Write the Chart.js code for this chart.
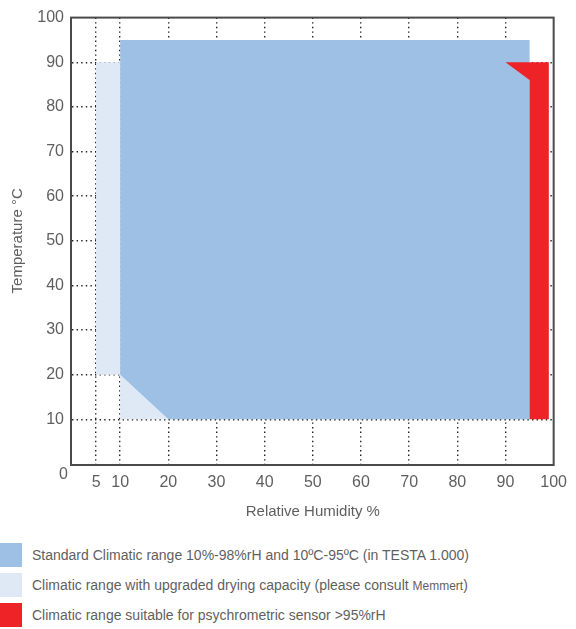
<!DOCTYPE html>
<html>
<head>
<meta charset="utf-8">
<script src="https://cdn.jsdelivr.net/npm/chart.js@4"></script>
<style>
  body { margin: 0; background: #fff; font-family: "Liberation Sans", Arial, sans-serif; }
  #wrap { position: relative; width: 576px; height: 629px; }
  #legend { position: absolute; left: 0; top: 543px; }
  .row { position: relative; height: 30px; }
  .sw { position: absolute; left: 0; top: 0; width: 22px; height: 24px; }
  .txt { position: absolute; left: 32px; top: 0; line-height: 24px; font-size: 14px; color: #5f5f5f; white-space: nowrap; }
  .small { font-size: 12px; }
</style>
</head>
<body>
<div id="wrap">
  <canvas id="myChart" width="576" height="530"></canvas>
  <div id="legend"></div>
</div>
<script>
// polygon corners, humidity (x) and temperature (y)
const standardRH = [10, 10, 95, 95, 20, 10];
const standardTemp = [20, 95, 95, 10, 10, 20];

const dryingRH = [5, 5, 10, 10, 20, 10, 5];
const dryingTemp = [20, 90, 90, 10, 10, 20, 20];

const psychroRH = [90, 99, 99, 95, 95, 90];
const psychroTemp = [90, 90, 10, 10, 86, 90];

const xTicks = [5, 10, 20, 30, 40, 50, 60, 70, 80, 90, 100];
const yTicks = [0, 10, 20, 30, 40, 50, 60, 70, 80, 90, 100];

const legendLabels = [
  "Standard Climatic range 10%-98%rH and 10ºC-95ºC (in TESTA 1.000)",
  "Climatic range with upgraded drying capacity (please consult <span class=\"small\">Memmert</span>)",
  "Climatic range suitable for psychrometric sensor &gt;95%rH",
];
const colors = ["#9dc0e4", "#dfe9f6", "#ed2327"];

function points(xs, ys) {
  return xs.map((x, i) => ({ x: x, y: ys[i] }));
}

function area(data, color, order) {
  return {
    data: data,
    showLine: true,
    fill: "shape",
    backgroundColor: color,
    borderColor: "rgba(0,0,0,0)",
    borderWidth: 0,
    pointRadius: 0,
    order: order,
  };
}

// frame round the plot + the lone "0" under the corner
const framePlugin = {
  id: "frame",
  afterDraw(chart) {
    let a = chart.chartArea;
    let c = chart.ctx;
    c.save();
    c.strokeStyle = "#4a4a4a";
    c.lineWidth = 2;
    c.strokeRect(a.left - 1, a.top, a.right - a.left + 1, a.bottom - a.top + 1);
    c.fillStyle = "#5f5f5f";
    c.font = "16px 'Liberation Sans', Arial, sans-serif";
    c.textAlign = "right";
    c.textBaseline = "middle";
    let y0 = chart.scales.y.getPixelForValue(0);
    c.fillText("0", chart.scales.y.right - 4, y0 + 11);
    c.restore();
  },
};

const gridColor = "#222";
const tickFont = { family: "'Liberation Sans', Arial, sans-serif", size: 16 };
const titleFont = { family: "'Liberation Sans', Arial, sans-serif", size: 15 };

new Chart(document.getElementById("myChart"), {
  type: "scatter",
  data: {
    datasets: [
      area(points(psychroRH, psychroTemp), colors[2], 0),
      area(points(standardRH, standardTemp), colors[0], 1),
      area(points(dryingRH, dryingTemp), colors[1], 2),
    ],
  },
  options: {
    responsive: false,
    animation: false,
    layout: { padding: { top: 17, right: 20, left: 0, bottom: 0 } },
    plugins: {
      legend: { display: false },
      tooltip: { enabled: false },
    },
    scales: {
      x: {
        type: "linear",
        min: 0,
        max: 100,
        z: 1,
        afterBuildTicks: (scale) => {
          scale.ticks = xTicks.map((v) => ({ value: v }));
        },
        afterFit: (scale) => {
          scale.height = 66;
        },
        grid: {
          color: (ctx) => (ctx.tick && ctx.tick.value < 100 ? gridColor : "rgba(0,0,0,0)"),
          lineWidth: 1.4,
          drawTicks: false,
        },
        border: { display: false, dash: [1.4, 3.2] },
        ticks: { color: "#5f5f5f", font: tickFont, padding: 9, maxRotation: 0 },
        title: {
          display: true,
          text: "Relative Humidity %",
          color: "#5f5f5f",
          font: titleFont,
          padding: { top: 0, bottom: 9 },
        },
      },
      y: {
        type: "linear",
        min: 0,
        max: 100,
        z: 1,
        afterBuildTicks: (scale) => {
          scale.ticks = yTicks.map((v) => ({ value: v }));
        },
        afterFit: (scale) => {
          scale.width = 72;
        },
        grid: {
          color: (ctx) => (ctx.tick && ctx.tick.value > 0 && ctx.tick.value < 100 ? gridColor : "rgba(0,0,0,0)"),
          lineWidth: 1.4,
          drawTicks: false,
        },
        border: { display: false, dash: [1.4, 3.2] },
        ticks: {
          color: "#5f5f5f",
          font: tickFont,
          padding: 8,
          callback: (v) => (v === 0 ? "" : v),
        },
        title: {
          display: true,
          text: "Temperature °C",
          color: "#5f5f5f",
          font: titleFont,
          padding: { top: 9, bottom: 0 },
        },
      },
    },
  },
  plugins: [framePlugin],
});

// legend below the chart
let legend = document.getElementById("legend");
legendLabels.forEach((label, i) => {
  let row = document.createElement("div");
  row.className = "row";
  row.innerHTML = '<div class="sw" style="background:' + colors[i] + '"></div><div class="txt">' + label + "</div>";
  legend.appendChild(row);
});
</script>
</body>
</html>
